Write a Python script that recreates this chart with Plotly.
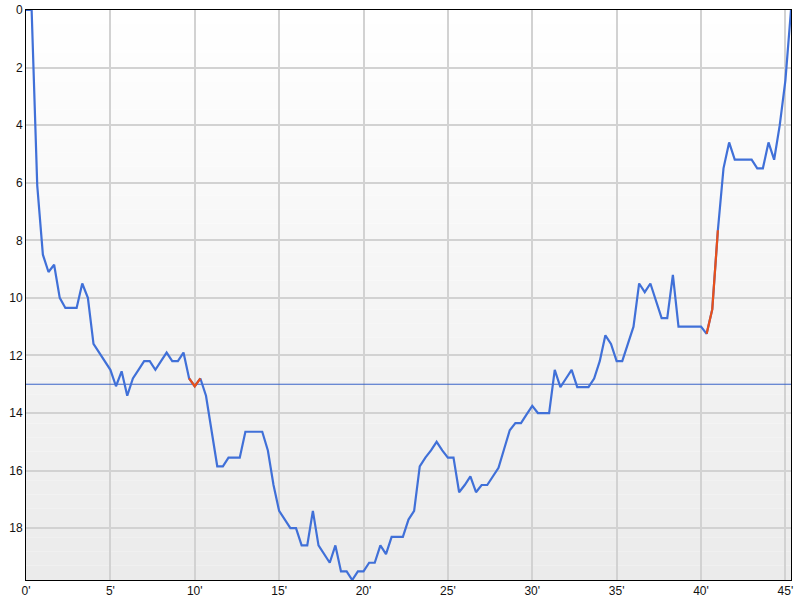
import plotly.graph_objects as go

# Data: one value every 20 seconds (1/3 minute)
values = [
    0, 0, 6.1, 8.5, 9.1, 8.85, 10.0, 10.35, 10.35, 10.35,
    9.5, 10.0, 11.6, 11.9, 12.2, 12.5, 13.07, 12.55, 13.4, 12.8,
    12.5, 12.2, 12.2, 12.5, 12.2, 11.9, 12.2, 12.2, 11.9, 12.8,
    13.07, 12.8, 13.4, 14.7, 15.85, 15.85, 15.55, 15.55, 15.55, 14.65,
    14.65, 14.65, 14.65, 15.3, 16.5, 17.4, 17.7, 18.0, 18.0, 18.6,
    18.6, 17.4, 18.6, 18.9, 19.2, 18.6, 19.5, 19.5, 19.8, 19.5,
    19.5, 19.2, 19.2, 18.6, 18.9, 18.3, 18.3, 18.3, 17.7, 17.4,
    15.85, 15.55, 15.3, 15.0, 15.3, 15.55, 15.55, 16.75, 16.5, 16.2,
    16.75, 16.5, 16.5, 16.2, 15.9, 15.25, 14.6, 14.35, 14.35, 14.05,
    13.75, 14.0, 14.0, 14.0, 12.5, 13.1, 12.8, 12.5, 13.1, 13.1,
    13.1, 12.8, 12.2, 11.3, 11.6, 12.2, 12.2, 11.6, 11.0, 9.5,
    9.8, 9.5, 10.1, 10.7, 10.7, 9.2, 11.0, 11.0, 11.0, 11.0,
    11.0, 11.25, 10.4, 7.65, 5.5, 4.6, 5.2, 5.2, 5.2, 5.2,
    5.5, 5.5, 4.6, 5.2, 4.0, 2.45, 0,
]
minutes = [i / 3 for i in range(len(values))]
highlight_ranges = [(29, 31), (121, 123)]  # index ranges drawn in red
threshold = 13
x_ticks = list(range(0, 46, 5))
x_tick_labels = [f"{t}'" for t in x_ticks]
y_ticks = list(range(0, 19, 2))

BLUE = "#4070d8"
RED = "#e8501a"

fig = go.Figure()
# threshold line (drawn first so the data line sits on top)
fig.add_trace(go.Scatter(x=[minutes[0], minutes[-1]], y=[threshold, threshold],
                         mode="lines", line=dict(color="#3a64c8", width=1),
                         hoverinfo="skip"))
fig.add_trace(go.Scatter(x=minutes, y=values, mode="lines",
                         line=dict(color=BLUE, width=2.2), hoverinfo="skip"))
for a, b in highlight_ranges:
    fig.add_trace(go.Scatter(x=minutes[a:b + 1], y=values[a:b + 1], mode="lines",
                             line=dict(color=RED, width=2.2), hoverinfo="skip"))

# gradient background bands
shapes = []
n = 40
for k in range(n):
    f = k / (n - 1)
    c = int(round(235 + (255 - 235) * f))
    shapes.append(dict(type="rect", xref="x domain", yref="y domain",
                       x0=0, x1=1, y0=k / n, y1=(k + 1) / n,
                       fillcolor=f"rgb({c},{c},{c})", line=dict(width=0),
                       layer="below"))

fig.update_layout(
    width=800, height=600,
    margin=dict(l=26, r=9, t=10, b=20),
    paper_bgcolor="white", plot_bgcolor="white",
    showlegend=False, shapes=shapes,
    font=dict(family="Arial, Liberation Sans, sans-serif", size=12, color="#111"),
)
fig.update_xaxes(range=[0, minutes[-1]], tickvals=x_ticks, ticktext=x_tick_labels,
                 showgrid=True, gridcolor="#d2d2d2", gridwidth=2,
                 showline=True, linecolor="black", linewidth=1, mirror=True,
                 ticks="", zeroline=False, automargin=False)
fig.update_yaxes(range=[19.8, 0], tickvals=y_ticks,
                 showgrid=True, gridcolor="#d2d2d2", gridwidth=2,
                 showline=True, linecolor="black", linewidth=1, mirror=True,
                 ticks="", zeroline=False, automargin=False)

fig.write_html("out.html", config={"displayModeBar": False},
               post_script="document.body.style.margin='0';")
